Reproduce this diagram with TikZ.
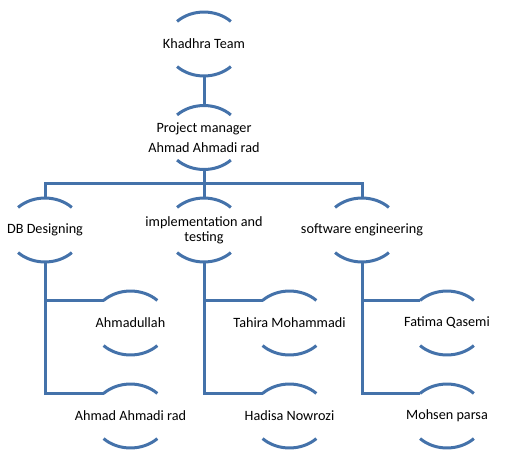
\documentclass[tikz,border=0pt]{standalone}
\usepackage{fontspec}
\setmainfont{Carlito}
\definecolor{arcblue}{RGB}{68,114,170}
\newcommand{\arcnode}[4]{% name, x, y, text
  \pgfmathsetmacro{\axl}{#2-26.9}
  \pgfmathsetmacro{\ayt}{#3-22.6}
  \pgfmathsetmacro{\ayb}{#3+22.6}
  \coordinate (#1) at (#2,#3);
  \coordinate (#1-top) at (#2,#3-32);
  \coordinate (#1-bot) at (#2,#3+32);
  \coordinate (#1-tl) at (\axl,\ayt);
  \coordinate (#1-bl) at (\axl,\ayb);
  \draw[conn] (#1-tl) arc[start angle=225,end angle=315,x radius=38,y radius=32];
  \draw[conn] (#1-bl) arc[start angle=135,end angle=45,x radius=38,y radius=32];
  \node[lbl] (#1-t) at (#1) {#4};
}
\begin{document}
\begin{tikzpicture}[x=1pt,y=-1pt,
  conn/.style={draw=arcblue,line width=3pt},
  lbl/.style={font=\fontsize{14.2}{15}\selectfont,align=center,inner sep=0pt,text=black}]
\useasboundingbox (0,0) rectangle (512,467);
\arcnode{top}{204}{44}{Khadhra Team}
\arcnode{pm}{204}{137.5}{Project manager\\[5pt]Ahmad Ahmadi rad}
\arcnode{db}{45}{230}{DB Designing}
\arcnode{im}{204}{230}{implementation and\\testing}
\arcnode{se}{362}{230}{software engineering}
\arcnode{a1}{130.5}{323}{Ahmadullah}
\arcnode{a2}{130.5}{416}{Ahmad Ahmadi rad}
\arcnode{b1}{289.5}{323}{Tahira Mohammadi}
\arcnode{b2}{289.5}{416}{Hadisa Nowrozi}
\arcnode{c1}{447}{323}{Fatima Qasemi}
\arcnode{c2}{447}{416}{Mohsen parsa}
% connectors
\coordinate (bar) at (204,183);
\draw[conn] (top-bot) -- (pm-top);
\draw[conn] (pm-bot) -- (bar);
\draw[conn] (db-top) |- (bar) -| (se-top);
\draw[conn] (bar) -- (im-top);
\draw[conn] (a1-tl) -| (db-bot) ;
\draw[conn] (a2-tl) -| (db-bot);
\draw[conn] (b1-tl) -| (im-bot);
\draw[conn] (b2-tl) -| (im-bot);
\draw[conn] (c1-tl) -| (se-bot);
\draw[conn] (c2-tl) -| (se-bot);
\end{tikzpicture}
\end{document}
